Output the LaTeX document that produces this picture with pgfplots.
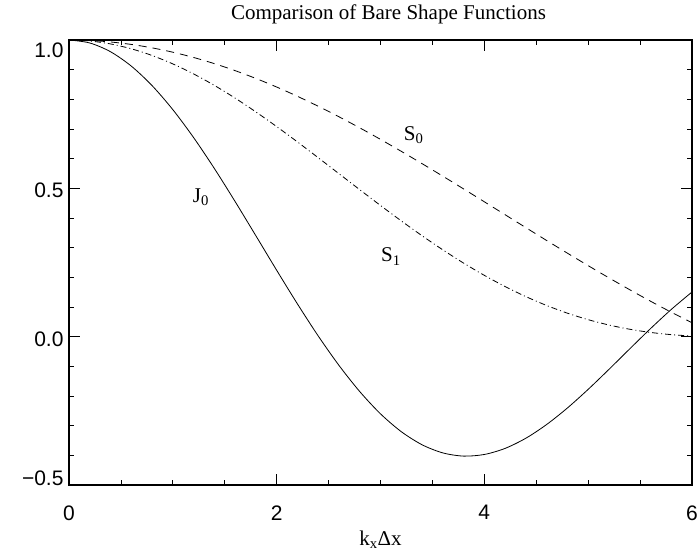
\documentclass[border=0pt]{standalone}
\usepackage{fontspec}
\setmainfont{Liberation Serif}
\newfontfamily\ticksans{Liberation Sans}
\usepackage{pgfplots}
\pgfplotsset{compat=1.18}
\begin{document}
\begin{tikzpicture}
\useasboundingbox (-69bp,-69bp) rectangle (629bp,485bp);
\begin{axis}[
  at={(0,0)}, anchor=south west,
  scale only axis, width=623bp, height=445bp,
  xmin=0, xmax=6, ymin=-0.5, ymax=1.0,
  xtick={0,2,4,6}, xticklabels={0,2,4,6},
  ytick={-0.5,0,0.5,1.0},
  yticklabels={\raisebox{7bp}[15bp][0pt]{−0.5},\raisebox{-2bp}[15bp][0pt]{0.0},\raisebox{-2bp}[15bp][0pt]{0.5},\raisebox{-10bp}[15bp][0pt]{1.0}},
  minor x tick num=3, minor y tick num=4,
  tick align=inside,
  major tick length=11bp, minor tick length=5bp,
  every tick/.style={black, line width=0.8bp},
  axis line style={line width=1.2bp},
  ticklabel style={font=\ticksans\fontsize{21bp}{21bp}\selectfont},
  xticklabel style={yshift=-17bp},
  yticklabel style={xshift=-2bp},
  title={Comparison of Bare Shape Functions},
  title style={font=\fontsize{21bp}{21bp}\selectfont, at={(0.5,1)}, anchor=base, yshift=15bp, xshift=8bp},
  xlabel={k\textsubscript{x}Δx},
  xlabel style={font=\fontsize{21bp}{21bp}\selectfont, at={(0.5,0)}, anchor=base, yshift=-60bp},
  clip=true,
]
\addplot[black, line width=0.8bp, smooth] table {
x y
0.0 1.0000
0.2 0.9900
0.4 0.9604
0.6 0.9120
0.8 0.8463
1.0 0.7652
1.2 0.6711
1.4 0.5669
1.6 0.4554
1.8 0.3400
2.0 0.2239
2.2 0.1104
2.4 0.0025
2.6 -0.0968
2.8 -0.1850
3.0 -0.2601
3.2 -0.3202
3.4 -0.3643
3.6 -0.3918
3.8 -0.4026
4.0 -0.3971
4.2 -0.3766
4.4 -0.3423
4.6 -0.2961
4.8 -0.2404
5.0 -0.1776
5.2 -0.1103
5.4 -0.0412
5.6 0.0270
5.8 0.0917
6.0 0.1506
};
\addplot[black, line width=0.8bp, smooth, dash pattern=on 8bp off 6bp] table {
x y
0.0 1.000000
0.2 0.998334
0.4 0.993347
0.6 0.985067
0.8 0.973546
1.0 0.958851
1.2 0.941070
1.4 0.920311
1.6 0.896695
1.8 0.870363
2.0 0.841471
2.2 0.810188
2.4 0.776699
2.6 0.741199
2.8 0.703893
3.0 0.664997
3.2 0.624734
3.4 0.583332
3.6 0.541027
3.8 0.498053
4.0 0.454649
4.2 0.411052
4.4 0.367498
4.6 0.324220
4.8 0.281443
5.0 0.239389
5.2 0.198270
5.4 0.158289
5.6 0.119639
5.8 0.082500
6.0 0.047040
};
\addplot[black, line width=0.8bp, smooth, dash pattern=on 6bp off 3bp on 1bp off 3bp] table {
x y
0.0 1.000000
0.2 0.996671
0.4 0.986738
0.6 0.970357
0.8 0.947792
1.0 0.919395
1.2 0.885613
1.4 0.846972
1.6 0.804062
1.8 0.757532
2.0 0.708073
2.2 0.656405
2.4 0.603261
2.6 0.549376
2.8 0.495465
3.0 0.442221
3.2 0.390292
3.4 0.340276
3.6 0.292710
3.8 0.248057
4.0 0.206705
4.2 0.168964
4.4 0.135055
4.6 0.105119
4.8 0.079210
5.0 0.057307
5.2 0.039311
5.4 0.025055
5.6 0.014314
5.8 0.006806
6.0 0.002213
};
\node[font=\fontsize{21bp}{21bp}\selectfont] at (axis cs:1.27,0.47) {J\textsubscript{0}};
\node[font=\fontsize{21bp}{21bp}\selectfont] at (axis cs:3.32,0.68) {S\textsubscript{0}};
\node[font=\fontsize{21bp}{21bp}\selectfont] at (axis cs:3.10,0.27) {S\textsubscript{1}};
\end{axis}
\end{tikzpicture}
\end{document}
